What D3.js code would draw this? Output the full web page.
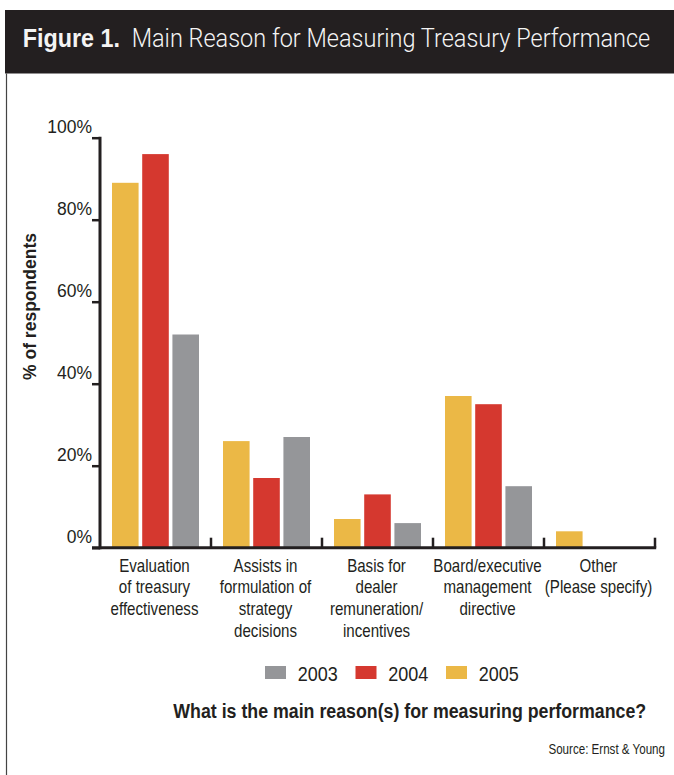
<!DOCTYPE html>
<html>
<head>
<meta charset="utf-8">
<script src="https://cdn.jsdelivr.net/npm/d3@7"></script>
<style>
  body { margin: 0; background: #fff; }
  svg { display: block; }
</style>
</head>
<body>
<svg id="chart" width="674" height="775"></svg>
<script>
// Survey categories and their wrapped label lines
const categories = [
  "Evaluation of treasury effectiveness",
  "Assists in formulation of strategy decisions",
  "Basis for dealer remuneration/ incentives",
  "Board/executive management directive",
  "Other (Please specify)"
];
const categoryLines = [
  ["Evaluation", "of treasury", "effectiveness"],
  ["Assists in", "formulation of", "strategy", "decisions"],
  ["Basis for", "dealer", "remuneration/", "incentives"],
  ["Board/executive", "management", "directive"],
  ["Other", "(Please specify)"]
];

// Bars are drawn in this order inside each group
const years = ["2005", "2004", "2003"];
const legendYears = ["2003", "2004", "2005"];

// % of respondents
const values2005 = [89, 26, 7, 37, 4];
const values2004 = [96, 17, 13, 35, 0];
const values2003 = [52, 27, 6, 15, 0];

const yTicks = [0, 20, 40, 60, 80, 100];

const titleBold = "Figure 1.";
const titleRest = "Main Reason for Measuring Treasury Performance";
const yLabel = "% of respondents";
const question = "What is the main reason(s) for measuring performance?";
const source = "Source: Ernst & Young";

const colors = { "2003": "#959699", "2004": "#d5382f", "2005": "#ebb846" };
const ink = "#231f20";
const FONT = "'Liberation Sans', Arial, Helvetica, sans-serif";

const seriesByYear = { "2005": values2005, "2004": values2004, "2003": values2003 };

const svg = d3.select("#chart");

// Place a text at (x, y) and squeeze it horizontally, either by a fixed
// factor or so that it spans a given width. The anchor stays in place.
function placeCondensed(sel, x, y, opts) {
  sel.attr("x", 0).attr("y", 0);
  const node = sel.node();
  const w = node.getComputedTextLength();
  const k = opts.width ? opts.width / w : opts.k;
  sel.attr("transform", `translate(${x},${y}) scale(${k.toFixed(4)},1)`);
}

// Title band
svg.append("rect")
  .attr("x", 5).attr("y", 10).attr("width", 669).attr("height", 63.5)
  .attr("fill", ink);

svg.append("text")
  .attr("font-family", FONT).attr("font-weight", "bold").attr("font-size", 25)
  .attr("fill", "#f4f4f4")
  .text(titleBold)
  .call(placeCondensed, 22.7, 46.7, { width: 97.3 });

svg.append("text")
  .attr("font-family", "Roboto, 'Liberation Sans', sans-serif").attr("font-weight", 300).attr("font-size", 26)
  .attr("fill", "#f4f4f4")
  .text(titleRest)
  .call(placeCondensed, 131.7, 46.7, { width: 519 });

// Left frame rule under the title
svg.append("line")
  .attr("x1", 6.5).attr("x2", 6.5).attr("y1", 73.5).attr("y2", 775)
  .attr("stroke", "#444").attr("stroke-width", 1.2);

// Scales
const x = d3.scaleBand().domain(categories).range([100, 655]);
const xInner = d3.scaleBand().domain(years).range([12, 99]).paddingInner(0.12);
const y = d3.scaleLinear().domain([0, 100]).range([547.7, 137.7]);

// Bars
const groups = svg.append("g").selectAll("g")
  .data(categories)
  .join("g")
  .attr("transform", d => `translate(${x(d)},0)`);

groups.selectAll("rect")
  .data((d, i) => years.map(yr => ({ year: yr, value: seriesByYear[yr][i] })))
  .join("rect")
  .attr("x", d => xInner(d.year))
  .attr("width", xInner.bandwidth())
  .attr("y", d => y(d.value))
  .attr("height", d => y(0) - y(d.value))
  .attr("fill", d => colors[d.year]);

// Y axis
const yAxis = svg.append("g")
  .attr("transform", "translate(100,0)")
  .call(d3.axisLeft(y).tickValues(yTicks).tickSize(8).tickSizeOuter(0).tickFormat(d => d + "%"));

yAxis.select(".domain").attr("stroke", ink).attr("stroke-width", 3)
  .attr("d", `M0,${y(100) - 1}V${y(0) + 1.5}`);
yAxis.selectAll(".tick line").attr("stroke", ink).attr("stroke-width", 2.5);
yAxis.selectAll(".tick text")
  .attr("x", -8).attr("y", -5).attr("dy", 0)
  .attr("font-family", FONT).attr("font-size", 17.5).attr("fill", ink)
  .attr("text-anchor", "end");

// X axis baseline with group separators
const xAxis = svg.append("g");
xAxis.append("line")
  .attr("x1", 92).attr("x2", x.range()[1] + 1.2)
  .attr("y1", y(0)).attr("y2", y(0))
  .attr("stroke", ink).attr("stroke-width", 3);

const separators = categories.slice(1).map(c => x(c)).concat([x.range()[1]]);
xAxis.selectAll("line.sep")
  .data(separators)
  .join("line")
  .attr("class", "sep")
  .attr("x1", d => d).attr("x2", d => d)
  .attr("y1", y(0)).attr("y2", y(0) - 10)
  .attr("stroke", ink).attr("stroke-width", 2.5);

// Category labels
categories.forEach((c, i) => {
  const cx = x(c) + x.bandwidth() / 2 - 1;
  categoryLines[i].forEach((line, j) => {
    svg.append("text")
      .attr("text-anchor", "middle")
      .attr("font-family", FONT).attr("font-size", 18.2).attr("fill", ink)
      .text(line)
      .call(placeCondensed, cx, 571.7 + j * 21.7, { k: 0.83 });
  });
});

// Y axis title
svg.append("text")
  .attr("transform", "translate(36,306.5) rotate(-90)")
  .attr("text-anchor", "middle")
  .attr("font-family", FONT).attr("font-weight", "bold").attr("font-size", 18)
  .attr("fill", ink)
  .text(yLabel)
  .attr("textLength", 147).attr("lengthAdjust", "spacingAndGlyphs");

// Legend
const legendX = d3.scaleBand().domain(legendYears).range([265, 265 + 3 * 90.5]);
const legend = svg.append("g").selectAll("g")
  .data(legendYears)
  .join("g")
  .attr("transform", d => `translate(${legendX(d)},666)`);
legend.append("rect")
  .attr("width", 21).attr("height", 13)
  .attr("fill", d => colors[d]);
legend.append("text")
  .attr("font-family", FONT).attr("font-size", 20).attr("fill", ink)
  .text(d => d)
  .each(function () { d3.select(this).call(placeCondensed, 32.7, 14.7, { k: 0.9 }); });

// Survey question
svg.append("text")
  .attr("font-family", FONT).attr("font-weight", "bold").attr("font-size", 21)
  .attr("fill", ink)
  .text(question)
  .call(placeCondensed, 173.3, 718.3, { width: 473.4 });

// Source note
svg.append("text")
  .attr("text-anchor", "end")
  .attr("font-family", FONT).attr("font-size", 15).attr("fill", ink)
  .text(source)
  .call(placeCondensed, 665, 754, { width: 116.7 });
</script>
</body>
</html>
